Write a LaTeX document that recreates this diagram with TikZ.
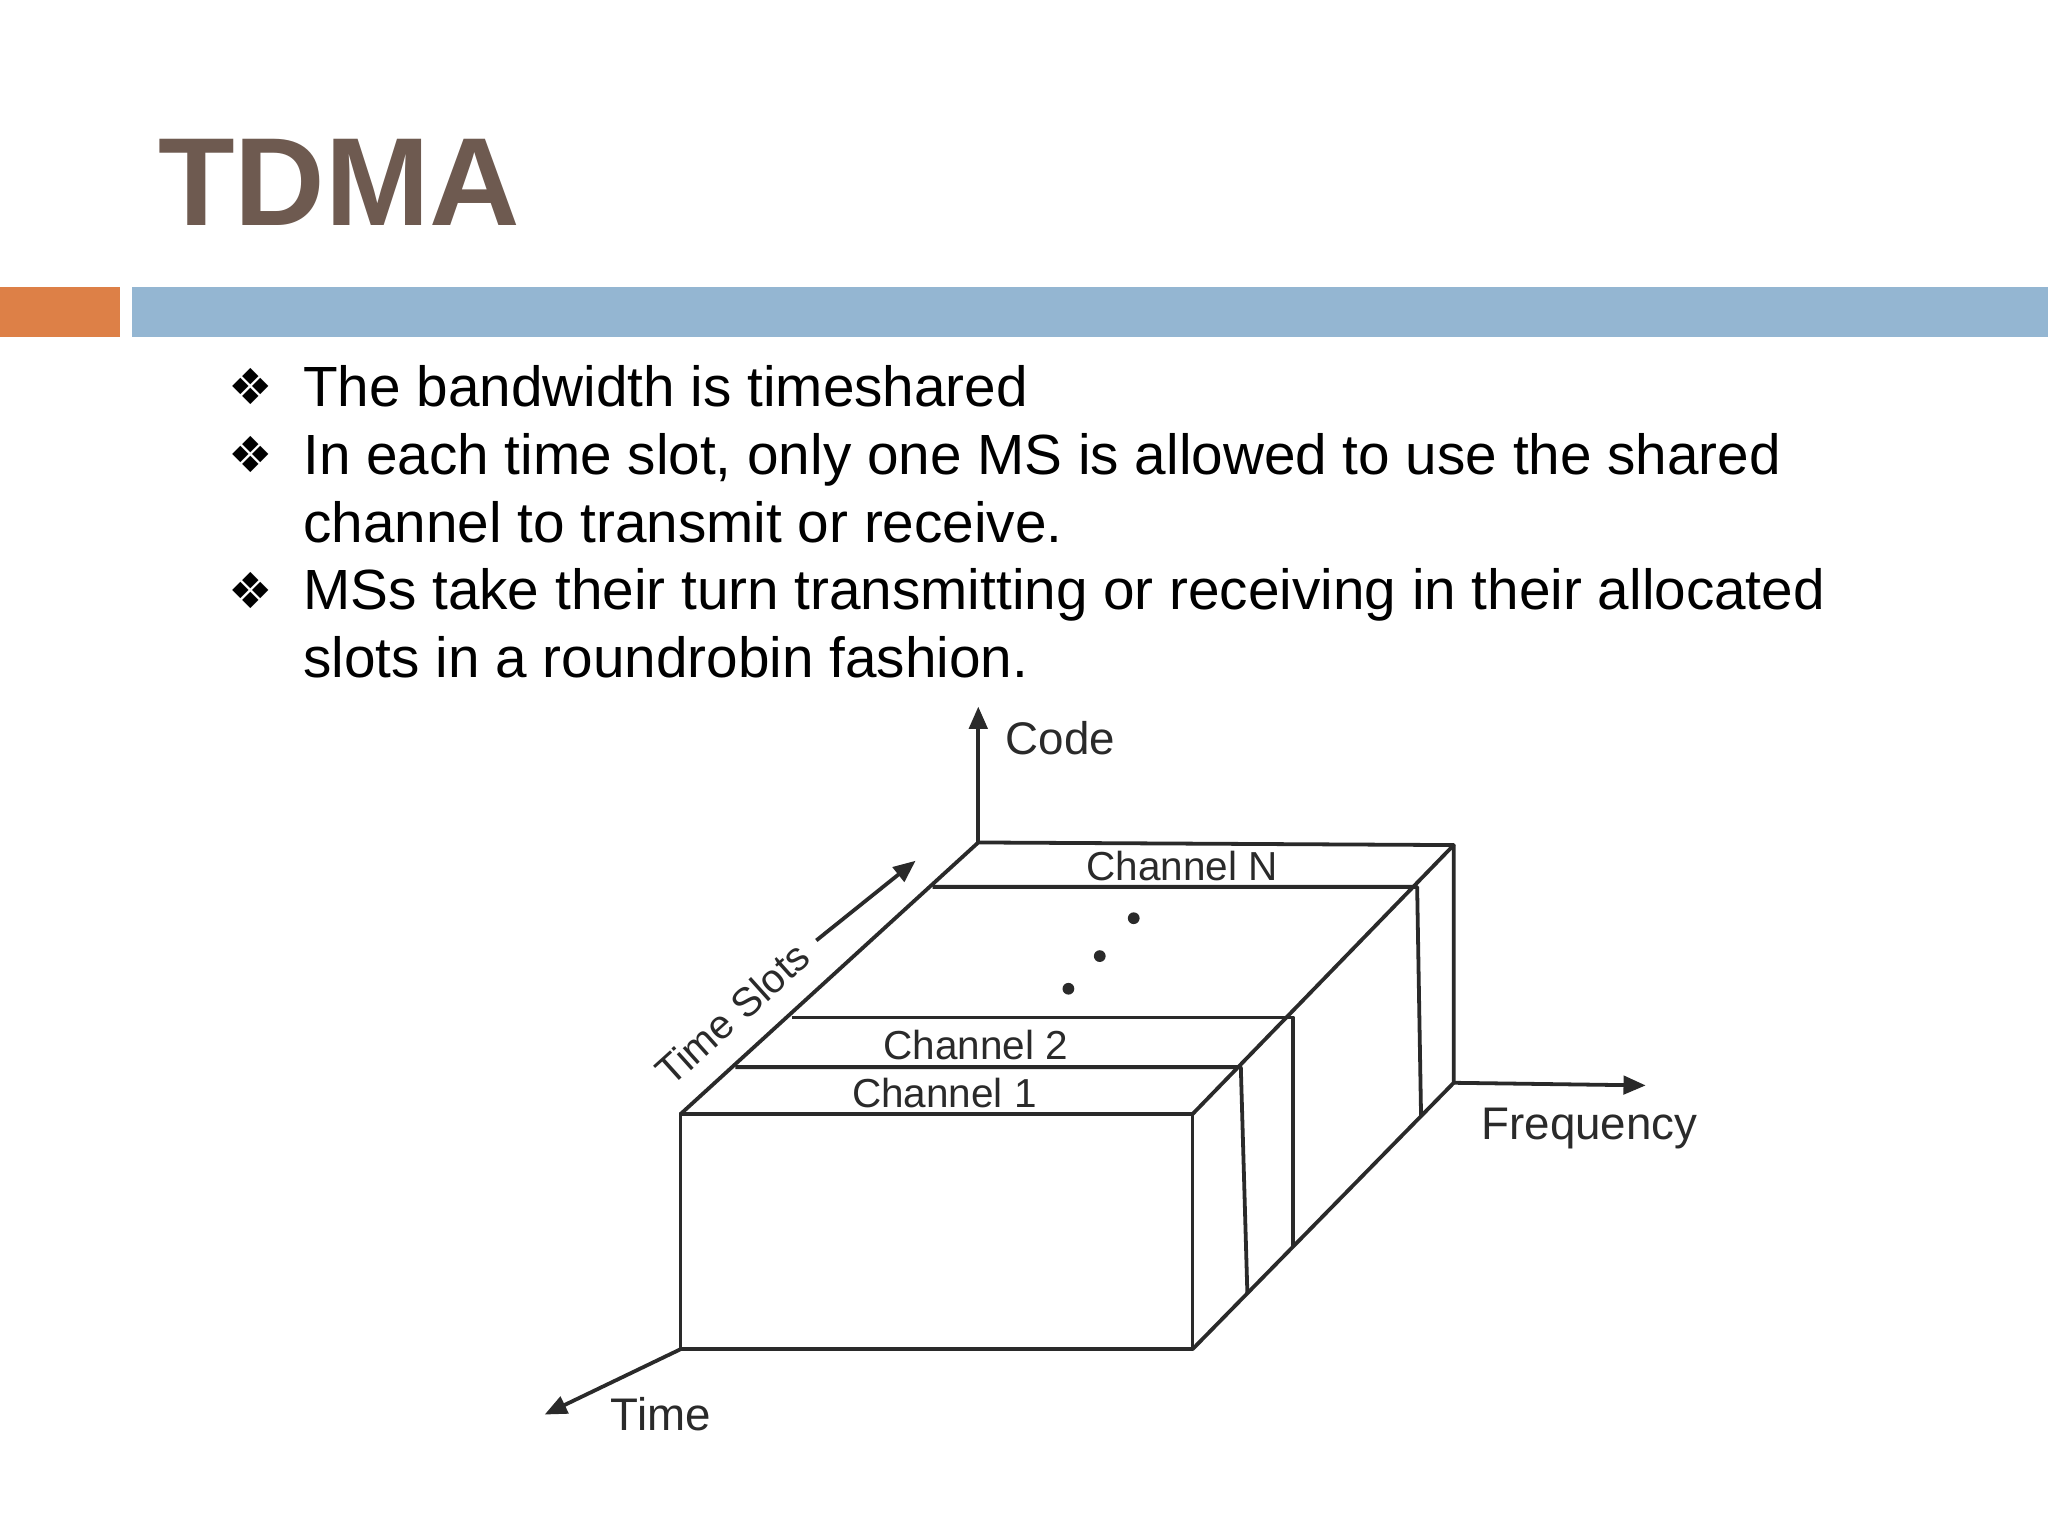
\documentclass[tikz,border=0pt]{standalone}
\usepackage{fontspec}
\setmainfont{Liberation Sans}
\newfontfamily\dejavu{DejaVu Sans}
\usetikzlibrary{arrows.meta}
\definecolor{titlec}{HTML}{6E5A50}
\definecolor{orangec}{HTML}{DD8047}
\definecolor{bluec}{HTML}{94B6D2}
\definecolor{diag}{HTML}{2A2A2A}
\tikzset{
  bul/.style={anchor=base west,font=\fontsize{43.4}{48}\selectfont,inner sep=0},
  edge/.style={draw=diag,line width=2.9pt,line join=round},
  lab/.style={font=\fontsize{31}{36}\selectfont,text=diag,inner sep=0},
  biglab/.style={font=\fontsize{35}{40}\selectfont,text=diag,inner sep=0},
  arr/.style={edge,-{Triangle[length=17pt,width=14pt]}}
}
\begin{document}
\begin{tikzpicture}[x=1pt,y=-1pt]
\useasboundingbox (0,0) rectangle (1568,1176);
\fill[white] (0,0) rectangle (1568,1176);
\node[anchor=base west,inner sep=0,font=\fontsize{96}{110}\selectfont\bfseries,text=titlec] (title) at (121,173) {TDMA};
\fill[orangec] (0,220) rectangle (92,258);
\fill[bluec] (101,220) rectangle (1568,258);
\foreach \y/\n in {297/b1,349/b2,453/b3}
  \node[anchor=base west,inner sep=0,font=\dejavu\fontsize{38}{40}\selectfont] (\n) at (175,\y+13) {❖};
\node[bul] (t1) at (232,311) {The bandwidth is timeshared};
\node[bul] (t2) at (232,363) {In each time slot, only one MS is allowed to use the shared};
\node[bul] (t3) at (232,415) {channel to transmit or receive.};
\node[bul] (t4) at (232,467) {MSs take their turn transmitting or receiving in their allocated};
\node[bul] (t5) at (232,519) {slots in a roundrobin fashion.};
\coordinate (A) at (521,853); \coordinate (B) at (913,853);
\coordinate (C) at (913,1033); \coordinate (D) at (521,1033);
\coordinate (E) at (749,645); \coordinate (F) at (1113,647);
\coordinate (G) at (1113,829);
\coordinate (c1l) at (563,817); \coordinate (c1r) at (950,817); \coordinate (c1b) at (955,990);
\coordinate (c2l) at (606,779); \coordinate (c2r) at (990,779); \coordinate (c2b) at (990,955);
\coordinate (cnl) at (714,679); \coordinate (cnr) at (1085,679); \coordinate (cnb) at (1088,855);
\draw[edge] (A) rectangle (C);
\draw[edge] (A) -- (E) -- (F) -- (B);
\draw[edge] (F) -- (G) -- (C);
\draw[edge] (c1l) -- (c1r) -- (c1b);
\draw[edge] (c2l) -- (c2r) -- (c2b);
\draw[edge] (cnl) -- (cnr) -- (cnb);
\coordinate (codeT) at (749,541); \coordinate (freqT) at (1260,831);
\coordinate (timeT) at (417,1083); \coordinate (tsS) at (625,720); \coordinate (tsT) at (701,659);
\draw[arr] (E) -- (codeT);
\draw[arr] (G) -- (freqT);
\draw[arr] (D) -- (timeT);
\draw[arr] (tsS) -- (tsT);
\foreach \p in {(868,703),(842,732),(818,757)} \fill[diag] \p circle (4.5);
\node[biglab,anchor=west] (code) at (770,565) {Code};
\node[lab] (chn) at (905,663) {Channel N};
\node[lab] (ch2) at (747,800) {Channel 2};
\node[lab] (ch1) at (723,837) {Channel 1};
\node[biglab] (freq) at (1217,864) {Frequency};
\node[biglab] (time) at (506,1083) {Time};
\node[lab,rotate=42] (ts) at (561,776) {Time Slots};
\end{tikzpicture}
\end{document}
